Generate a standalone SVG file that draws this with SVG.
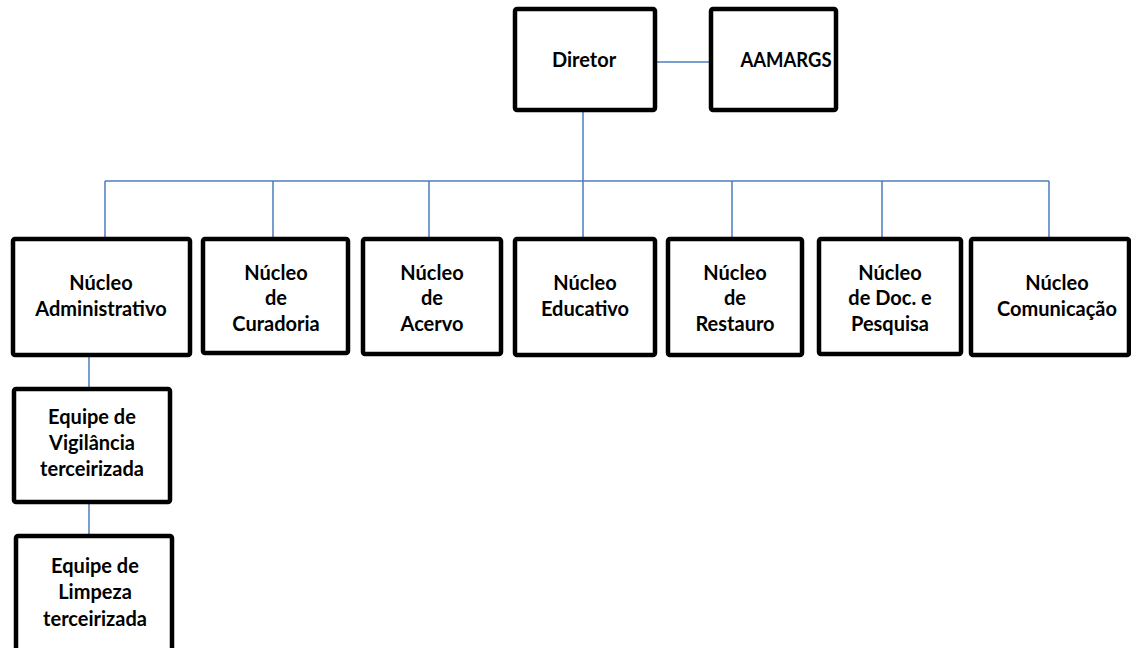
<svg xmlns="http://www.w3.org/2000/svg" width="1131" height="648" viewBox="0 0 1131 648">
<style>
.box{fill:#fff;stroke:#000;stroke-width:4.5;}
.lbl{font-family:Lato,"Liberation Sans",sans-serif;font-weight:bold;font-size:20px;fill:#000;text-anchor:middle;}
.con{fill:none;stroke:#4a7ebb;stroke-width:1.5;}
</style>
<rect width="1131" height="648" fill="#fff"/>
<g id="connectors">
<path class="con" d="M657 62H709"/>
<path class="con" d="M583 112V181"/>
<path class="con" d="M105 181H1049"/>
<path class="con" d="M105 181V237M273 181V237M429 181V237M583 181V237M732 181V237M882 181V237M1049 181V237"/>
<path class="con" d="M89 357V387"/>
<path class="con" d="M89 504V534"/>
</g>
<g id="diretor"><rect class="box" x="515" y="9" width="140" height="101" rx="2"/><text class="lbl" x="584" y="67">Diretor</text></g>
<g id="aamargs"><rect class="box" x="711" y="9" width="125" height="101" rx="2"/><text class="lbl" x="786" y="67" textLength="91" lengthAdjust="spacingAndGlyphs">AAMARGS</text></g>
<g id="administrativo"><rect class="box" x="13" y="239" width="177" height="116" rx="2"/><text class="lbl" x="101" y="290">Núcleo</text><text class="lbl" x="101" y="316">Administrativo</text></g>
<g id="curadoria"><rect class="box" x="203" y="239" width="145" height="114" rx="2"/><text class="lbl" x="276" y="280">Núcleo</text><text class="lbl" x="276" y="305">de</text><text class="lbl" x="276" y="331">Curadoria</text></g>
<g id="acervo"><rect class="box" x="363" y="239" width="138" height="115" rx="2"/><text class="lbl" x="432" y="280">Núcleo</text><text class="lbl" x="432" y="305">de</text><text class="lbl" x="432" y="331">Acervo</text></g>
<g id="educativo"><rect class="box" x="515" y="239" width="140" height="116" rx="2"/><text class="lbl" x="585" y="290">Núcleo</text><text class="lbl" x="585" y="316">Educativo</text></g>
<g id="restauro"><rect class="box" x="668" y="239" width="134" height="116" rx="2"/><text class="lbl" x="735" y="280">Núcleo</text><text class="lbl" x="735" y="305">de</text><text class="lbl" x="735" y="331">Restauro</text></g>
<g id="doc-pesquisa"><rect class="box" x="819" y="239" width="142" height="115" rx="2"/><text class="lbl" x="890" y="280">Núcleo</text><text class="lbl" x="890" y="305">de Doc. e</text><text class="lbl" x="890" y="331">Pesquisa</text></g>
<g id="comunicacao"><rect class="box" x="971" y="239" width="158" height="116" rx="2"/><text class="lbl" x="1057" y="290">Núcleo</text><text class="lbl" x="1057" y="316">Comunicação</text></g>
<g id="vigilancia"><rect class="box" x="14" y="389" width="156" height="113" rx="2"/><text class="lbl" x="92" y="424">Equipe de</text><text class="lbl" x="92" y="450">Vigilância</text><text class="lbl" x="92" y="476">terceirizada</text></g>
<g id="limpeza"><rect class="box" x="16" y="536" width="156" height="120" rx="2"/><text class="lbl" x="95" y="573">Equipe de</text><text class="lbl" x="95" y="599">Limpeza</text><text class="lbl" x="95" y="626">terceirizada</text></g>
</svg>
